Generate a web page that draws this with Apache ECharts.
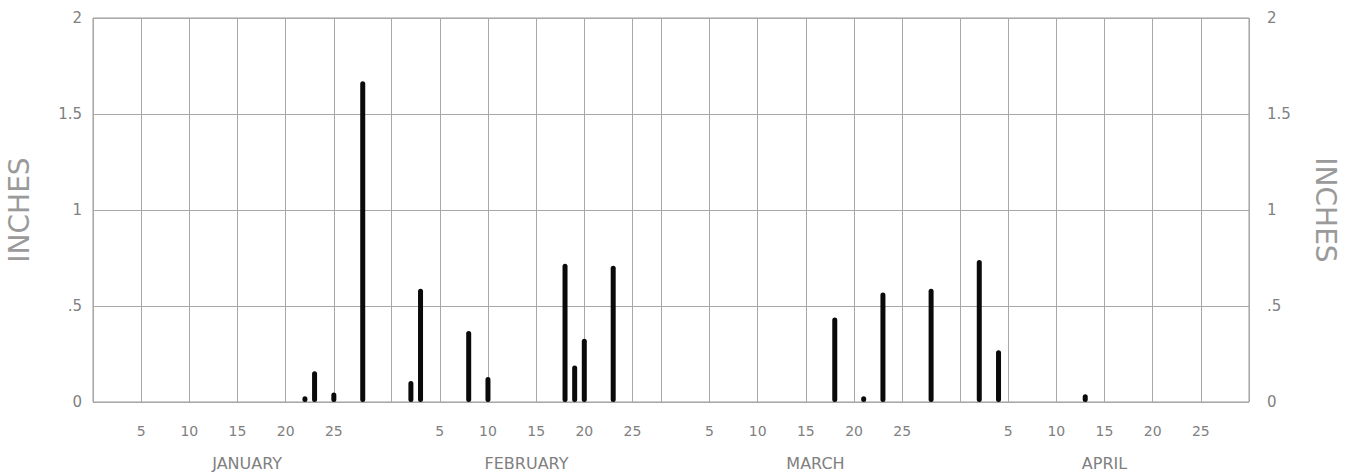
<!DOCTYPE html>
<html>
<head>
<meta charset="utf-8">
<script src="https://cdn.jsdelivr.net/npm/echarts@6/dist/echarts.min.js"></script>
<style>
html,body{margin:0;padding:0;background:#fff;}
#chart{width:1351px;height:474px;}
</style>
</head>
<body>
<div id="chart"></div>
<script>
// ---- data ----
const monthNames = ['JANUARY', 'FEBRUARY', 'MARCH', 'APRIL'];
const monthLengths = [31, 28, 31, 30];
const monthLabelDays = [16, 14, 16, 15];          // day of month where the month name sits
const dayTickLabels = ['5', '10', '15', '20', '25'];
const yTickValues = [0, 0.5, 1, 1.5, 2];
const yTickLabels = ['0', '.5', '1', '1.5', '2'];
const rainDates = ['01-22', '01-23', '01-25', '01-28', '02-02', '02-03', '02-08', '02-10',
                   '02-18', '02-19', '02-20', '02-23', '03-18', '03-21', '03-23', '03-28',
                   '04-02', '04-04', '04-13'];
const rainInches = [0.03, 0.16, 0.05, 1.67, 0.11, 0.59, 0.37, 0.13,
                    0.72, 0.19, 0.33, 0.71, 0.44, 0.03, 0.57, 0.59,
                    0.74, 0.27, 0.04];

// ---- build category list (Dec 31 start + every day Jan..Apr) ----
const pad = n => (n < 10 ? '0' : '') + n;
const days = ['12-31'];
monthLengths.forEach((len, m) => { for (let d = 1; d <= len; d++) days.push(pad(m + 1) + '-' + pad(d)); });
const parse = v => { const p = v.split('-'); return { m: +p[0], d: +p[1] }; };
const isMonthEnd = v => { const p = parse(v); return p.m === 12 || p.d === monthLengths[p.m - 1]; };
const isDayTick = v => { const p = parse(v); return p.m !== 12 && dayTickLabels.indexOf(String(p.d)) >= 0; };
const isMonthLabel = v => { const p = parse(v); return p.m !== 12 && monthLabelDays[p.m - 1] === p.d; };

const barData = days.map(v => { const i = rainDates.indexOf(v); return i >= 0 ? rainInches[i] : null; });

const grey = '#a8a8a8';
const textGrey = '#808080';
const font = 'DejaVu Sans';

const yLabelFmt = v => { const i = yTickValues.indexOf(+v); return i >= 0 ? yTickLabels[i] : ''; };

const chart = echarts.init(document.getElementById('chart'), null, { renderer: 'svg' });
chart.setOption({
  animation: false,
  backgroundColor: '#fff',
  grid: { left: 93, right: 102, top: 18, bottom: 72, show: true, borderColor: '#9a9a9a', borderWidth: 1,
          containLabel: false, outerBoundsMode: 'none' },
  xAxis: [
    {
      type: 'category', data: days, boundaryGap: false,
      axisLine: { show: false }, axisTick: { show: false },
      splitLine: { show: true, interval: (i, v) => isDayTick(v) || isMonthEnd(v), lineStyle: { color: grey, width: 1 } },
      axisLabel: { interval: (i, v) => isDayTick(v), formatter: v => String(parse(v).d),
                   color: textGrey, fontFamily: font, fontSize: 14, margin: 22 }
    },
    {
      type: 'category', data: days, boundaryGap: false, position: 'bottom',
      axisLine: { show: false }, axisTick: { show: false }, splitLine: { show: false },
      axisLabel: { interval: (i, v) => isMonthLabel(v), formatter: v => monthNames[parse(v).m - 1],
                   color: textGrey, fontFamily: font, fontSize: 16, margin: 53 }
    }
  ],
  yAxis: [
    {
      type: 'value', min: 0, max: 2, interval: 0.5, position: 'left',
      name: 'INCHES', nameLocation: 'middle', nameGap: 60, nameRotate: 90,
      nameTextStyle: { color: '#9a9a9a', fontFamily: font, fontSize: 28 },
      axisLine: { show: false }, axisTick: { show: false },
      splitLine: { show: true, lineStyle: { color: grey, width: 1 } },
      axisLabel: { formatter: yLabelFmt, color: textGrey, fontFamily: font, fontSize: 15, margin: 11 }
    },
    {
      type: 'value', min: 0, max: 2, interval: 0.5, position: 'right',
      name: 'INCHES', nameLocation: 'middle', nameGap: 62, nameRotate: -90,
      nameTextStyle: { color: '#9a9a9a', fontFamily: font, fontSize: 28 },
      axisLine: { show: false }, axisTick: { show: false }, splitLine: { show: false },
      axisLabel: { formatter: yLabelFmt, color: textGrey, fontFamily: font, fontSize: 15, margin: 18 }
    }
  ],
  series: [
    {
      type: 'bar', xAxisIndex: 0, yAxisIndex: 0, data: barData,
      barWidth: 5, itemStyle: { color: '#0a0a0a', borderRadius: 2.5 }
    }
  ]
});
</script>
</body>
</html>
